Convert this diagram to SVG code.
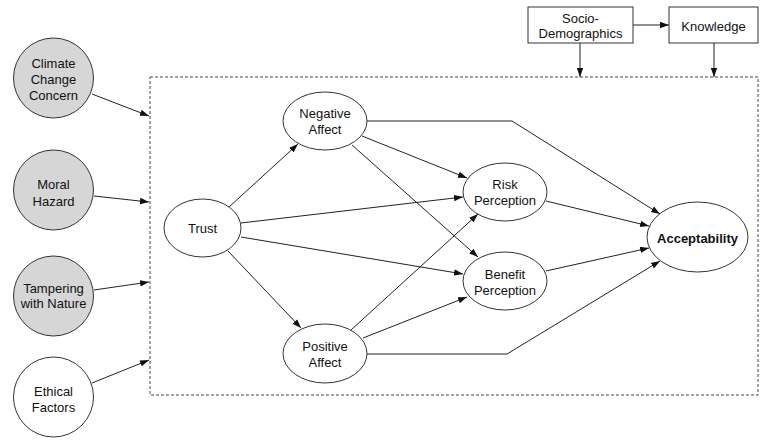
<svg xmlns="http://www.w3.org/2000/svg" width="769" height="442" viewBox="0 0 769 442">
<style>
text{font-family:"Liberation Sans",Arial,sans-serif;font-size:13px;fill:#111;text-anchor:middle}
.n{fill:#fff;stroke:#333;stroke-width:1}
.g{fill:#d6d6d6;stroke:#333;stroke-width:1}
.c{fill:none;stroke:#222;stroke-width:1;marker-end:url(#ah)}
.b{font-weight:bold}
</style>
<defs>
<marker id="ah" markerUnits="userSpaceOnUse" markerWidth="10" markerHeight="8" refX="9" refY="4" orient="auto">
<path d="M0,0.8 L9,4 L0,7.2 Z" fill="#111"/>
</marker>
</defs>
<rect x="150" y="77" width="608" height="318" fill="none" stroke="#444" stroke-width="1" stroke-dasharray="3,2"/>
<g id="connectors">
<line class="c" x1="92" y1="94" x2="149" y2="116"/>
<line class="c" x1="94" y1="196" x2="149" y2="202"/>
<line class="c" x1="94" y1="290" x2="149" y2="282"/>
<line class="c" x1="92" y1="383" x2="149" y2="360"/>
<line class="c" x1="633" y1="25" x2="669" y2="25"/>
<line class="c" x1="580" y1="43" x2="580" y2="77"/>
<line class="c" x1="714" y1="43" x2="714" y2="77"/>
<line class="c" x1="229" y1="207" x2="298" y2="144"/>
<line class="c" x1="228" y1="251" x2="301" y2="328"/>
<line class="c" x1="241" y1="223" x2="463" y2="197"/>
<line class="c" x1="241" y1="237" x2="463" y2="274"/>
<line class="c" x1="362" y1="136" x2="467" y2="178"/>
<line class="c" x1="352" y1="145" x2="478" y2="257"/>
<polyline class="c" points="367,121 512,121 660,214"/>
<line class="c" x1="546" y1="201" x2="649" y2="226"/>
<line class="c" x1="546" y1="271" x2="649" y2="248"/>
<polyline class="c" points="367,354 507,354 660,261"/>
<line class="c" x1="351" y1="330" x2="478" y2="214"/>
<line class="c" x1="363" y1="338" x2="467" y2="297"/>
</g>
<g id="climate"><circle class="g" cx="53.5" cy="78" r="40"/><text x="53.5" y="68">Climate</text><text x="53.5" y="84">Change</text><text x="53.5" y="100">Concern</text></g>
<g id="moral"><circle class="g" cx="53.5" cy="190" r="40"/><text x="53.5" y="189">Moral</text><text x="53.5" y="206">Hazard</text></g>
<g id="tampering"><circle class="g" cx="53.5" cy="296" r="40"/><text x="53.5" y="293">Tampering</text><text x="53.5" y="308">with Nature</text></g>
<g id="ethical"><circle class="n" cx="53.5" cy="397" r="40"/><text x="53.5" y="396">Ethical</text><text x="53.5" y="412">Factors</text></g>
<g id="socio"><rect class="n" x="528" y="7" width="105" height="36"/><text x="580.5" y="23">Socio-</text><text x="580.5" y="38">Demographics</text></g>
<g id="knowledge"><rect class="n" x="669" y="7" width="89" height="36"/><text x="713.5" y="31">Knowledge</text></g>
<g id="trust"><ellipse class="n" cx="202.5" cy="228" rx="38.5" ry="29"/><text x="202.5" y="233">Trust</text></g>
<g id="negative"><ellipse class="n" cx="325" cy="121" rx="42" ry="29"/><text x="325" y="118">Negative</text><text x="325" y="134">Affect</text></g>
<g id="positive"><ellipse class="n" cx="325" cy="353.5" rx="42" ry="29.5"/><text x="325" y="351">Positive</text><text x="325" y="367">Affect</text></g>
<g id="risk"><ellipse class="n" cx="505" cy="192" rx="42" ry="29"/><text x="505" y="189">Risk</text><text x="505" y="205">Perception</text></g>
<g id="benefit"><ellipse class="n" cx="505" cy="281" rx="42" ry="29"/><text x="505" y="279">Benefit</text><text x="505" y="295">Perception</text></g>
<g id="acceptability"><ellipse class="n" cx="697.5" cy="237" rx="50.5" ry="35"/><text class="b" x="697.5" y="243">Acceptability</text></g>
</svg>
